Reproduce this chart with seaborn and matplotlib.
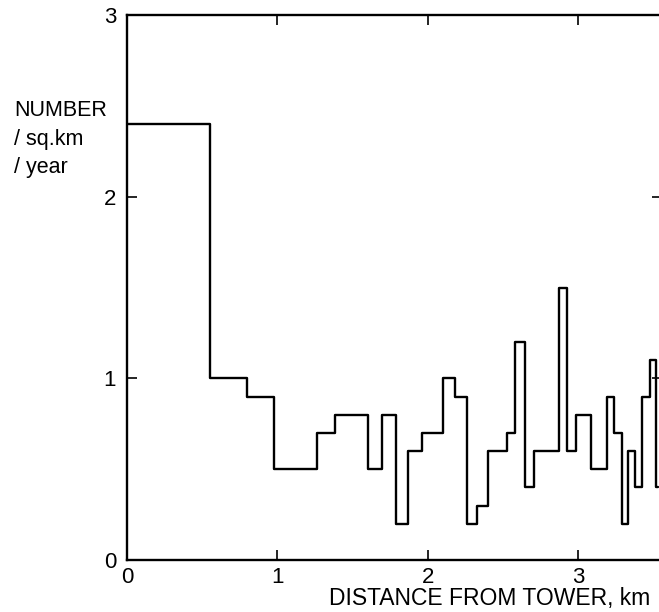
import numpy as np
import pandas as pd
import matplotlib
matplotlib.use("Agg")
import matplotlib.pyplot as plt
import seaborn as sns

# bin edges (km) and counts per sq.km per year
edges = [0.0, 0.548, 0.795, 0.975, 1.263, 1.383, 1.603, 1.697, 1.790, 1.870,
         1.964, 2.104, 2.178, 2.258, 2.325, 2.398, 2.525, 2.578, 2.645, 2.705,
         2.873, 2.926, 2.986, 3.086, 3.193, 3.240, 3.293, 3.333, 3.380, 3.427,
         3.480, 3.520, 3.533]
levels = [2.4, 1.0, 0.9, 0.5, 0.7, 0.8, 0.5, 0.8, 0.2, 0.6,
          0.7, 1.0, 0.9, 0.2, 0.3, 0.6, 0.7, 1.2, 0.4, 0.6,
          1.5, 0.6, 0.8, 0.5, 0.9, 0.7, 0.2, 0.6, 0.4, 0.9,
          1.1, 0.4]

x_ticks = [0, 1, 2, 3]
y_ticks = [0, 1, 2, 3]

df = pd.DataFrame({"dist": edges, "num": levels + [levels[-1]]})

sns.set_style("ticks", {"text.color": "black", "xtick.color": "black",
                        "ytick.color": "black", "axes.edgecolor": "black",
                        "axes.labelcolor": "black"})
plt.rcParams['font.family'] = ['Liberation Sans', 'DejaVu Sans']

fig = plt.figure(figsize=(6.59, 6.12), dpi=100)
ax = fig.add_axes([0.193, 0.085, 0.812, 0.89])

sns.lineplot(data=df, x="dist", y="num", drawstyle="steps-post",
             color="black", linewidth=1.7, ax=ax, estimator=None)

ax.set_xlim(0, 3.56)
ax.set_ylim(0, 3)
ax.set_xticks(x_ticks)
ax.set_yticks(y_ticks)
ax.set_xticklabels([str(t) for t in x_ticks], fontsize=16)
ax.set_yticklabels([str(t) for t in y_ticks], fontsize=16)
ax.tick_params(direction="in", length=7, width=1.2, top=True, right=True)
ax.tick_params(axis="y", pad=8)
ax.tick_params(axis="x", pad=5)
for s in ["left", "bottom", "top"]:
    ax.spines[s].set_linewidth(1.7)
ax.spines["right"].set_visible(False)

ax.set_xlabel("")
ax.set_ylabel("")
fig.text(0.986, 0.004, "DISTANCE FROM TOWER, km", ha="right", va="bottom",
         fontsize=16.5, color="black")
fig.text(0.022, 0.836, "NUMBER\n/ sq.km\n/ year", ha="left", va="top",
         fontsize=15.5, linespacing=1.45, color="black")

fig.savefig("out.png", dpi=100)
